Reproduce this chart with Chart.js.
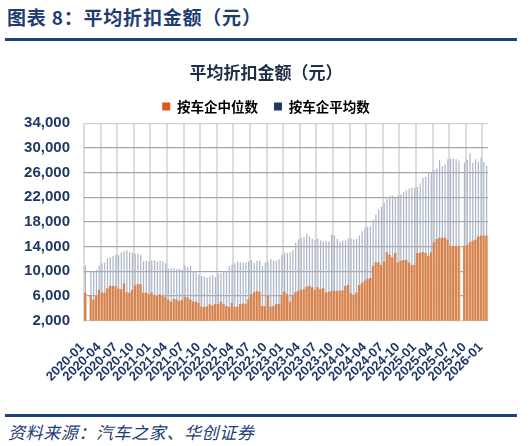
<!DOCTYPE html>
<html>
<head>
<meta charset="utf-8">
<script src="https://cdn.jsdelivr.net/npm/chart.js@4.4.1/dist/chart.umd.min.js"></script>
<style>
  html, body { margin: 0; padding: 0; background: #fff; }
  body { width: 529px; height: 446px; position: relative; overflow: hidden; font-family: 'Noto Sans CJK SC', sans-serif; }
  #head { position: absolute; left: 7px; top: 7px; font-size: 19px; line-height: 1; font-weight: bold; color: #1e3d73; letter-spacing: 0.8px; white-space: nowrap; }
  .rule { position: absolute; left: 5px; width: 512px; height: 3px; background: #1f4279; }
  #foot { position: absolute; left: 8px; top: 423px; font-size: 17px; line-height: 1; font-style: italic; color: #1e3d73; letter-spacing: 0.6px; white-space: nowrap; }
  #wrap { position: absolute; left: 0; top: 45px; width: 529px; height: 365px; }
</style>
</head>
<body>
<div id="head">图表 8：平均折扣金额（元）</div>
<div class="rule" style="top:38px"></div>
<div id="wrap"><canvas id="discountChart"></canvas></div>
<div class="rule" style="top:414px"></div>
<div id="foot">资料来源：汽车之家、华创证券</div>
<script>
const ctx = document.getElementById('discountChart').getContext('2d');

// half-month points, 2020-01 .. 2026-01 (null = no data)
const medianByMaker = [
  6550, null, 6150, 5450, 6000, 7000,
  6550, 6550, 7250, 7650, 7650, 7600,
  7200, 7100, 8050, 6600, 6550, 7000,
  7700, 7950, 7900, 6550, 6550, 6300,
  6550, 6200, 6050, 6300, 6050, 5900,
  5400, 5100, 5500, 5450, 5250, 5350,
  5900, 5800, 5450, 5100, 5100, 4850,
  4300, 4250, 4350, 4650, 4450, 4700,
  4700, 5100, 4700, 4400, 4200, 4900,
  4200, 4300, 4700, 4800, 4750, 5500,
  6300, 6600, 6800, 6700, 4400, 4350,
  6000, 4300, 4400, 4700, 4750, 6200,
  6700, 6300, 5100, 6200, 6600, 6850,
  7000, 7100, 7550, 7650, 7400, 7000,
  7400, 7150, 7250, 6550, 6700, 6850,
  6850, 6900, 6900, 6950, 7650, 7800,
  6450, 6200, 6550, 7800, 8100, 8500,
  8750, 8900, 10950, 11500, 11450, 11050,
  11600, 13100, 12700, 12300, 12950, 11450,
  11700, 11850, 11850, 11450, 11050, 11050,
  12950, 12950, 13150, 12950, 12500, 13100,
  14700, 15250, 15450, 15450, 15500, 15150,
  14150, 14150, 14150, 14150, null, 14150,
  14300, 14700, 15000, 15150, 15650, 15800,
  15800, 15800
];

const meanByMaker = [
  10950, null, 9950, 10000, 10250, 10900,
  11300, 11450, 12150, 12300, 12450, 12700,
  12600, 13050, 13250, 13400, 13150, 13000,
  12850, 12850, 12650, 11600, 11700, 11650,
  11850, 11800, 11550, 11700, 11600, 11300,
  10400, 10500, 10550, 10350, 10450, 10250,
  10900, 10650, 10900, 10000, 9950, 9450,
  9250, 9150, 9000, 9200, 9400, 9100,
  9600, 9700, 9950, 10100, 10800, 11050,
  11300, 11600, 11400, 11450, 11450, 11600,
  11850, 11350, 11700, 11700, 10900, 11450,
  11600, 11950, 11700, 11700, 11950, 12650,
  13050, 12950, 13050, 13400, 14600, 15150,
  15400, 15550, 16100, 15650, 15250, 15100,
  15300, 15000, 14850, 14950, 14850, 15950,
  15800, 15250, 14850, 15000, 15000, 15300,
  15350, 15150, 15250, 15800, 16500, 16950,
  17200, 17300, 18400, 19200, 20000, 20450,
  21100, 21750, 22200, 22250, 22100, 22300,
  22450, 22850, 23100, 23400, 23550, 23550,
  23650, 24250, 25150, 25300, 25900, 26100,
  26400, 26650, 28050, 27050, 27350, 28150,
  28250, 28250, 28150, 27950, null, 27600,
  28050, 29150, 27600, 28150, 27700, 28400,
  27700, 27050
];

const seriesNames = ['按车企中位数', '按车企平均数'];
const legendColors = ['#dc5a1e', '#1f3864'];

// category per point: two points per month
const periods = [];
for (let i = 0; i < medianByMaker.length; i++) {
  const m = Math.floor(i / 2);
  periods.push((2020 + Math.floor(m / 12)) + '-' + String(m % 12 + 1).padStart(2, '0'));
}

const navy = '#1f3864';
const numFont = { family: "'Liberation Sans', Arial", size: 15, weight: 'bold' };

// y labels are mirrored (so they are not clipped) and pulled back left of the plot
ctx.font = 'bold 15px "Liberation Sans", Arial';
const widestY = ctx.measureText('34,000').width;

const chart = new Chart(ctx, {
    type: 'bar',
    data: {
        labels: periods,
        datasets: [
            {
                label: seriesNames[0],
                data: medianByMaker,
                order: 0,
                grouped: false,
                backgroundColor: '#d5834f',
                borderColor: '#f6d3bb',
                borderWidth: { right: 0.9 },
                barPercentage: 1,
                categoryPercentage: 1
            },
            {
                label: seriesNames[1],
                data: meanByMaker,
                order: 1,
                grouped: false,
                backgroundColor: '#aab6c8',
                barPercentage: 0.45,
                categoryPercentage: 1
            }
        ]
    },
    options: {
        responsive: true,
        maintainAspectRatio: false,
        animation: false,
        layout: { padding: { top: 1, left: 44, right: 41, bottom: 0 } },
        scales: {
            x: {
                grid: {
                    offset: true,
                    drawTicks: false,
                    lineWidth: 2,
                    color: c => (c.index % 6 === 0 ? '#dcdcdc' : 'rgba(0,0,0,0)')
                },
                border: { display: false },
                ticks: {
                    autoSkip: false,
                    minRotation: 45,
                    maxRotation: 45,
                    padding: 19,
                    labelOffset: -3,
                    color: navy,
                    font: { family: "'Liberation Sans', Arial", size: 13, weight: 'bold' },
                    callback: (v, i) => (i % 6 === 0 ? periods[i] : '')
                },
                afterFit: s => { s.height = 89.3; }
            },
            y: {
                min: 2000,
                max: 34000,
                z: 1,
                ticks: {
                    stepSize: 4000,
                    mirror: true,
                    crossAlign: 'far',
                    padding: -14 - widestY,
                    color: navy,
                    font: numFont,
                    callback: v => v.toLocaleString('en-US')
                },
                grid: {
                    drawTicks: false,
                    lineWidth: 1.3,
                    color: c => (c.tick && (c.tick.value === 2000 || c.tick.value === 34000) ? '#d4d4d4' : '#a6a6a6')
                },
                border: { display: false },
                afterFit: s => { s.width = 40; }
            }
        },
        plugins: {
            title: {
                display: true,
                text: '平均折扣金额（元）',
                color: '#1f2d46',
                font: { family: 'Noto Sans CJK SC', size: 17, weight: 'bold' },
                padding: { top: 16.4, bottom: 0.9 }
            },
            legend: {
                labels: {
                    boxWidth: 8,
                    boxHeight: 8,
                    padding: 16,
                    color: '#1f3050',
                    font: { family: 'Noto Sans CJK SC', size: 13.5, weight: 'bold' },
                    generateLabels: () => seriesNames.map((name, i) => ({
                        text: name,
                        fillStyle: legendColors[i],
                        strokeStyle: legendColors[i],
                        lineWidth: 0,
                        datasetIndex: i,
                        hidden: false
                    }))
                }
            },
            tooltip: { enabled: false }
        }
    }
});
</script>
</body>
</html>
